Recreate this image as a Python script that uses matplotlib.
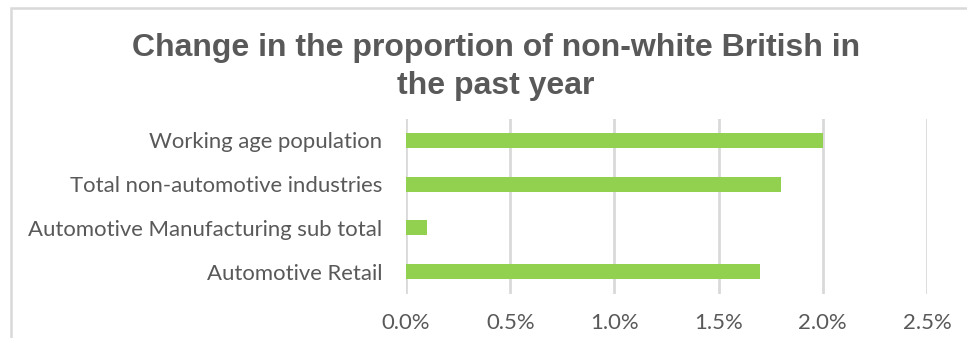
import matplotlib.pyplot as plt
from matplotlib.patches import Rectangle
from matplotlib.ticker import FuncFormatter

categories = [
    "Working age population",
    "Total non-automotive industries",
    "Automotive Manufacturing sub total",
    "Automotive Retail",
]
change_pct = [2.0, 1.8, 0.1, 1.7]
x_ticks = [0.0, 0.5, 1.0, 1.5, 2.0, 2.5]

W, H = 967, 338
fig = plt.figure(figsize=(W / 100, H / 100), dpi=100)
fig.patch.set_facecolor("white")

# light chart-area border (runs off the bottom/right edge)
fig.add_artist(Rectangle((10.5 / W, -0.1), 1.2, 1 - 7.5 / H + 0.1,
                         transform=fig.transFigure, fill=False,
                         edgecolor="#d9d9d9", linewidth=1.8))

ax = fig.add_axes([406 / W, 1 - 293.5 / H, (927 - 406) / W, 175 / H])

y = list(range(len(categories)))
ax.barh(y, change_pct, height=0.34, color="#92d050", zorder=3)
ax.set_ylim(len(categories) - 0.5, -0.5)
ax.set_yticks(y)
ax.set_yticklabels(categories, family="Lato", fontsize=15.9, color="#595959")

ax.set_xlim(0, 2.5)
ax.set_xticks(x_ticks)
ax.xaxis.set_major_formatter(FuncFormatter(lambda v, _: f"{v:.1f}%"))
for lbl in ax.get_xticklabels():
    lbl.set_family("Lato")
    lbl.set_fontsize(15.9)
    lbl.set_color("#595959")

ax.grid(axis="x", color="#d9d9d9", linewidth=2, zorder=0)
ax.tick_params(length=0)
ax.tick_params(axis="x", pad=14)
ax.tick_params(axis="y", pad=17)
for s in ax.spines.values():
    s.set_visible(False)

title_kw = dict(ha="center", va="baseline", family="Liberation Sans",
                weight="bold", fontsize=23, color="#595959")
fig.text(496 / W, 1 - 56 / H, "Change in the proportion of non-white British in", **title_kw)
fig.text(496 / W, 1 - 94 / H, "the past year", **title_kw)

fig.savefig("out.png", dpi=100)
